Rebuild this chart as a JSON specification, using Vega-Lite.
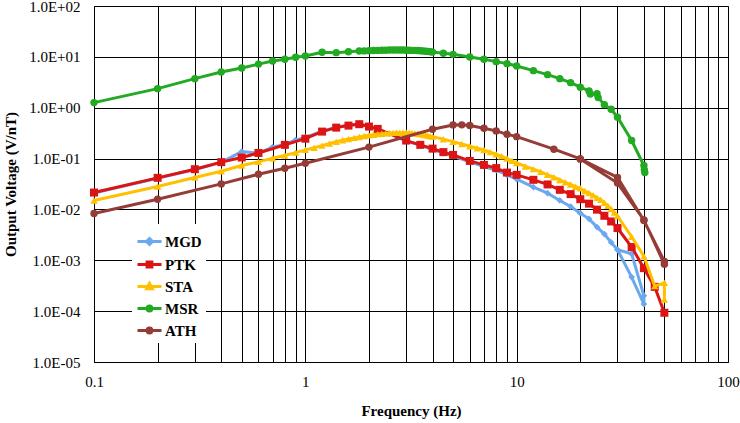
{
"$schema": "https://vega.github.io/schema/vega-lite/v6.json",
"width": 634, "height": 356,
"autosize": "none",
"padding": {"left": 94, "top": 6, "right": 12, "bottom": 61},
"background": "white",
"config": {"view": {"stroke": "#8c8c8c", "strokeWidth": 1}, "font": "Liberation Serif"},
"datasets": {
"d": [
{"s":"MGD","i":0,"f":0.1,"v":0.021},{"s":"MGD","i":1,"f":0.2,"v":0.041},{"s":"MGD","i":2,"f":0.3,"v":0.061},{"s":"MGD","i":3,"f":0.4,"v":0.084},{"s":"MGD","i":4,"f":0.5,"v":0.137},{"s":"MGD","i":5,"f":0.6,"v":0.128},{"s":"MGD","i":6,"f":0.7,"v":0.168},{"s":"MGD","i":7,"f":0.8,"v":0.19},{"s":"MGD","i":8,"f":0.9,"v":0.232},{"s":"MGD","i":9,"f":1.0,"v":0.26},{"s":"MGD","i":10,"f":1.2,"v":0.345},{"s":"MGD","i":11,"f":1.4,"v":0.415},{"s":"MGD","i":12,"f":1.6,"v":0.46},{"s":"MGD","i":13,"f":1.8,"v":0.485},{"s":"MGD","i":14,"f":2.0,"v":0.43},{"s":"MGD","i":15,"f":2.2,"v":0.385},{"s":"MGD","i":16,"f":2.5,"v":0.31},{"s":"MGD","i":17,"f":3.0,"v":0.222},{"s":"MGD","i":18,"f":3.5,"v":0.182},{"s":"MGD","i":19,"f":4.0,"v":0.152},{"s":"MGD","i":20,"f":4.5,"v":0.128},{"s":"MGD","i":21,"f":5,"v":0.112},{"s":"MGD","i":22,"f":6,"v":0.086},{"s":"MGD","i":23,"f":7,"v":0.07},{"s":"MGD","i":24,"f":8,"v":0.059},{"s":"MGD","i":25,"f":9,"v":0.048},{"s":"MGD","i":26,"f":10,"v":0.0394},{"s":"MGD","i":27,"f":12,"v":0.0274},{"s":"MGD","i":28,"f":14,"v":0.0209},{"s":"MGD","i":29,"f":16,"v":0.015},{"s":"MGD","i":30,"f":18,"v":0.0114},{"s":"MGD","i":31,"f":20,"v":0.00845},{"s":"MGD","i":32,"f":22,"v":0.00653},{"s":"MGD","i":33,"f":24,"v":0.00449},{"s":"MGD","i":34,"f":26,"v":0.00327},{"s":"MGD","i":35,"f":28,"v":0.00224},{"s":"MGD","i":36,"f":30,"v":0.00161},{"s":"MGD","i":37,"f":35,"v":0.00134},{"s":"MGD","i":38,"f":40,"v":0.000201},{"s":"MGD","i":39,"f":40,"v":0.000138},{"s":"MGD","i":40,"f":35,"v":0.000468},{"s":"MGD","i":41,"f":30,"v":0.00161},
{"s":"PTK","i":0,"f":0.1,"v":0.0215},{"s":"PTK","i":1,"f":0.2,"v":0.0418},{"s":"PTK","i":2,"f":0.3,"v":0.0618},{"s":"PTK","i":3,"f":0.4,"v":0.085},{"s":"PTK","i":4,"f":0.5,"v":0.105},{"s":"PTK","i":5,"f":0.6,"v":0.129},{"s":"PTK","i":6,"f":0.8,"v":0.186},{"s":"PTK","i":7,"f":1.0,"v":0.246},{"s":"PTK","i":8,"f":1.2,"v":0.339},{"s":"PTK","i":9,"f":1.4,"v":0.406},{"s":"PTK","i":10,"f":1.6,"v":0.445},{"s":"PTK","i":11,"f":1.8,"v":0.474},{"s":"PTK","i":12,"f":2.0,"v":0.426},{"s":"PTK","i":13,"f":2.2,"v":0.383},{"s":"PTK","i":14,"f":3.0,"v":0.226},{"s":"PTK","i":15,"f":3.5,"v":0.186},{"s":"PTK","i":16,"f":4.0,"v":0.157},{"s":"PTK","i":17,"f":4.5,"v":0.134},{"s":"PTK","i":18,"f":5,"v":0.118},{"s":"PTK","i":19,"f":6,"v":0.09},{"s":"PTK","i":20,"f":7,"v":0.075},{"s":"PTK","i":21,"f":8,"v":0.065},{"s":"PTK","i":22,"f":9,"v":0.053},{"s":"PTK","i":23,"f":10,"v":0.0479},{"s":"PTK","i":24,"f":12,"v":0.0382},{"s":"PTK","i":25,"f":14,"v":0.031},{"s":"PTK","i":26,"f":16,"v":0.0243},{"s":"PTK","i":27,"f":18,"v":0.02},{"s":"PTK","i":28,"f":20,"v":0.0159},{"s":"PTK","i":29,"f":22,"v":0.013},{"s":"PTK","i":30,"f":24,"v":0.0099},{"s":"PTK","i":31,"f":26,"v":0.0075},{"s":"PTK","i":32,"f":28,"v":0.0058},{"s":"PTK","i":33,"f":30,"v":0.0043},{"s":"PTK","i":34,"f":35,"v":0.00182},{"s":"PTK","i":35,"f":40,"v":0.0007},{"s":"PTK","i":36,"f":45,"v":0.0003},{"s":"PTK","i":37,"f":50,"v":0.000093},
{"s":"STA","i":0,"f":0.1,"v":0.015},{"s":"STA","i":1,"f":0.2,"v":0.0282},{"s":"STA","i":2,"f":0.3,"v":0.0424},{"s":"STA","i":3,"f":0.4,"v":0.0565},{"s":"STA","i":4,"f":0.5,"v":0.073},{"s":"STA","i":5,"f":0.6,"v":0.086},{"s":"STA","i":6,"f":0.7,"v":0.1016},{"s":"STA","i":7,"f":0.8,"v":0.115},{"s":"STA","i":8,"f":0.9,"v":0.131},{"s":"STA","i":9,"f":1.0,"v":0.148},{"s":"STA","i":10,"f":1.1,"v":0.163},{"s":"STA","i":11,"f":1.2,"v":0.18},{"s":"STA","i":12,"f":1.3,"v":0.198},{"s":"STA","i":13,"f":1.4,"v":0.214},{"s":"STA","i":14,"f":1.5,"v":0.229},{"s":"STA","i":15,"f":1.6,"v":0.243},{"s":"STA","i":16,"f":1.7,"v":0.255},{"s":"STA","i":17,"f":1.8,"v":0.266},{"s":"STA","i":18,"f":1.9,"v":0.277},{"s":"STA","i":19,"f":2.0,"v":0.287},{"s":"STA","i":20,"f":2.1,"v":0.295},{"s":"STA","i":21,"f":2.2,"v":0.302},{"s":"STA","i":22,"f":2.3,"v":0.308},{"s":"STA","i":23,"f":2.4,"v":0.313},{"s":"STA","i":24,"f":2.5,"v":0.317},{"s":"STA","i":25,"f":2.6,"v":0.32},{"s":"STA","i":26,"f":2.7,"v":0.322},{"s":"STA","i":27,"f":2.8,"v":0.323},{"s":"STA","i":28,"f":2.9,"v":0.323},{"s":"STA","i":29,"f":3.0,"v":0.322},{"s":"STA","i":30,"f":3.1,"v":0.32},{"s":"STA","i":31,"f":3.2,"v":0.317},{"s":"STA","i":32,"f":3.3,"v":0.313},{"s":"STA","i":33,"f":3.4,"v":0.308},{"s":"STA","i":34,"f":3.5,"v":0.303},{"s":"STA","i":35,"f":3.6,"v":0.297},{"s":"STA","i":36,"f":3.7,"v":0.29},{"s":"STA","i":37,"f":3.8,"v":0.283},{"s":"STA","i":38,"f":3.9,"v":0.276},{"s":"STA","i":39,"f":4.0,"v":0.27},{"s":"STA","i":40,"f":4.5,"v":0.24},{"s":"STA","i":41,"f":5.0,"v":0.215},{"s":"STA","i":42,"f":5.5,"v":0.193},{"s":"STA","i":43,"f":6.0,"v":0.175},{"s":"STA","i":44,"f":6.5,"v":0.16},{"s":"STA","i":45,"f":7.0,"v":0.147},{"s":"STA","i":46,"f":7.5,"v":0.134},{"s":"STA","i":47,"f":8.0,"v":0.122},{"s":"STA","i":48,"f":8.5,"v":0.111},{"s":"STA","i":49,"f":9.0,"v":0.1},{"s":"STA","i":50,"f":9.5,"v":0.09},{"s":"STA","i":51,"f":10,"v":0.082},{"s":"STA","i":52,"f":11,"v":0.07},{"s":"STA","i":53,"f":12,"v":0.062},{"s":"STA","i":54,"f":13,"v":0.055},{"s":"STA","i":55,"f":14,"v":0.048},{"s":"STA","i":56,"f":15,"v":0.043},{"s":"STA","i":57,"f":16,"v":0.038},{"s":"STA","i":58,"f":17,"v":0.034},{"s":"STA","i":59,"f":18,"v":0.031},{"s":"STA","i":60,"f":19,"v":0.028},{"s":"STA","i":61,"f":20,"v":0.026},{"s":"STA","i":62,"f":21,"v":0.023},{"s":"STA","i":63,"f":22,"v":0.021},{"s":"STA","i":64,"f":23,"v":0.019},{"s":"STA","i":65,"f":24,"v":0.017},{"s":"STA","i":66,"f":25,"v":0.0155},{"s":"STA","i":67,"f":26,"v":0.0135},{"s":"STA","i":68,"f":27,"v":0.0118},{"s":"STA","i":69,"f":28,"v":0.0102},{"s":"STA","i":70,"f":29,"v":0.0087},{"s":"STA","i":71,"f":30,"v":0.0074},{"s":"STA","i":72,"f":35,"v":0.0029},{"s":"STA","i":73,"f":40,"v":0.0012},{"s":"STA","i":74,"f":45,"v":0.00031},{"s":"STA","i":75,"f":50,"v":0.00036},{"s":"STA","i":76,"f":50,"v":0.00017},
{"s":"MSR","i":0,"f":0.1,"v":1.26},{"s":"MSR","i":1,"f":0.2,"v":2.37},{"s":"MSR","i":2,"f":0.3,"v":3.73},{"s":"MSR","i":3,"f":0.4,"v":5.05},{"s":"MSR","i":4,"f":0.5,"v":6.05},{"s":"MSR","i":5,"f":0.6,"v":7.2},{"s":"MSR","i":6,"f":0.7,"v":8.3},{"s":"MSR","i":7,"f":0.8,"v":8.96},{"s":"MSR","i":8,"f":0.9,"v":9.8},{"s":"MSR","i":9,"f":1.0,"v":10.4},{"s":"MSR","i":10,"f":1.2,"v":12.3},{"s":"MSR","i":11,"f":1.4,"v":12.1},{"s":"MSR","i":12,"f":1.6,"v":12.6},{"s":"MSR","i":13,"f":1.8,"v":13.0},{"s":"MSR","i":14,"f":1.9,"v":13.1},{"s":"MSR","i":15,"f":2.0,"v":13.2},{"s":"MSR","i":16,"f":2.1,"v":13.3},{"s":"MSR","i":17,"f":2.2,"v":13.4},{"s":"MSR","i":18,"f":2.3,"v":13.5},{"s":"MSR","i":19,"f":2.4,"v":13.5},{"s":"MSR","i":20,"f":2.5,"v":13.6},{"s":"MSR","i":21,"f":2.6,"v":13.6},{"s":"MSR","i":22,"f":2.7,"v":13.6},{"s":"MSR","i":23,"f":2.8,"v":13.6},{"s":"MSR","i":24,"f":2.9,"v":13.6},{"s":"MSR","i":25,"f":3.0,"v":13.5},{"s":"MSR","i":26,"f":3.1,"v":13.5},{"s":"MSR","i":27,"f":3.2,"v":13.4},{"s":"MSR","i":28,"f":3.3,"v":13.4},{"s":"MSR","i":29,"f":3.4,"v":13.3},{"s":"MSR","i":30,"f":3.5,"v":13.2},{"s":"MSR","i":31,"f":3.6,"v":13.1},{"s":"MSR","i":32,"f":3.7,"v":12.9},{"s":"MSR","i":33,"f":3.8,"v":12.8},{"s":"MSR","i":34,"f":3.9,"v":12.6},{"s":"MSR","i":35,"f":4.0,"v":12.4},{"s":"MSR","i":36,"f":4.5,"v":11.8},{"s":"MSR","i":37,"f":5,"v":11.2},{"s":"MSR","i":38,"f":6,"v":9.96},{"s":"MSR","i":39,"f":7,"v":8.97},{"s":"MSR","i":40,"f":8,"v":8.05},{"s":"MSR","i":41,"f":9,"v":7.36},{"s":"MSR","i":42,"f":10,"v":6.63},{"s":"MSR","i":43,"f":12,"v":5.36},{"s":"MSR","i":44,"f":14,"v":4.47},{"s":"MSR","i":45,"f":16,"v":3.73},{"s":"MSR","i":46,"f":18,"v":3.11},{"s":"MSR","i":47,"f":20,"v":2.53},{"s":"MSR","i":48,"f":22,"v":2.14},{"s":"MSR","i":49,"f":22.3,"v":1.86},{"s":"MSR","i":50,"f":24,"v":1.89},{"s":"MSR","i":51,"f":24.3,"v":1.58},{"s":"MSR","i":52,"f":26,"v":1.15},{"s":"MSR","i":53,"f":28,"v":0.93},{"s":"MSR","i":54,"f":30,"v":0.65},{"s":"MSR","i":55,"f":35,"v":0.226},{"s":"MSR","i":56,"f":40,"v":0.073},{"s":"MSR","i":57,"f":40.2,"v":0.06},{"s":"MSR","i":58,"f":40.4,"v":0.053},
{"s":"ATH","i":0,"f":0.1,"v":0.0083},{"s":"ATH","i":1,"f":0.2,"v":0.0159},{"s":"ATH","i":2,"f":0.4,"v":0.0318},{"s":"ATH","i":3,"f":0.6,"v":0.0493},{"s":"ATH","i":4,"f":0.8,"v":0.0647},{"s":"ATH","i":5,"f":1.0,"v":0.081},{"s":"ATH","i":6,"f":2,"v":0.168},{"s":"ATH","i":7,"f":4,"v":0.378},{"s":"ATH","i":8,"f":5,"v":0.459},{"s":"ATH","i":9,"f":5.5,"v":0.46},{"s":"ATH","i":10,"f":6,"v":0.447},{"s":"ATH","i":11,"f":7,"v":0.395},{"s":"ATH","i":12,"f":8,"v":0.35},{"s":"ATH","i":13,"f":9,"v":0.30},{"s":"ATH","i":14,"f":10,"v":0.27},{"s":"ATH","i":15,"f":15,"v":0.153},{"s":"ATH","i":16,"f":20,"v":0.0986},{"s":"ATH","i":17,"f":30,"v":0.0424},{"s":"ATH","i":18,"f":40,"v":0.00605},{"s":"ATH","i":19,"f":50,"v":0.00095},{"s":"ATH","i":20,"f":50,"v":0.00084},{"s":"ATH","i":21,"f":40,"v":0.0062},{"s":"ATH","i":22,"f":30,"v":0.033},{"s":"ATH","i":23,"f":20,"v":0.0986}
]
},
"data": {"name": "d"},
"encoding": {
"x": {"field": "f", "type": "quantitative",
 "scale": {"type": "log", "domain": [0.1, 100], "nice": false},
 "axis": {"title": "Frequency (Hz)", "values": [0.1,0.2,0.3,0.4,0.5,0.6,0.7,0.8,0.9,1,2,3,4,5,6,7,8,9,10,20,30,40,50,60,70,80,90,100],
  "labelExpr": "datum.value===0.1?'0.1':datum.value===1?'1':datum.value===10?'10':datum.value===100?'100':''",
  "grid": true, "gridColor": "#000", "gridOpacity": 1, "gridWidth": 1, "ticks": false,
  "domainColor": "#000", "domainWidth": 1, "labelFont": "Liberation Serif", "labelFontSize": 15, "labelColor": "#000",
  "labelPadding": 12, "labelFlush": false, "labelOverlap": false,
  "titleFont": "Liberation Serif", "titleFontSize": 15, "titleFontWeight": "bold", "titleColor": "#000", "titlePadding": 14}},
"y": {"field": "v", "type": "quantitative",
 "scale": {"type": "log", "domain": [0.00001, 100], "nice": false},
 "axis": {"title": "Output Voltage (V/nT)", "values": [0.00001,0.0001,0.001,0.01,0.1,1,10,100],
  "labelExpr": "'1.0E' + (round(log(datum.value)/LN10) < 0 ? '-' : '+') + '0' + abs(round(log(datum.value)/LN10))",
  "grid": true, "gridColor": "#000", "gridOpacity": 1, "gridWidth": 1, "ticks": false,
  "domainColor": "#000", "domainWidth": 1, "labelFont": "Liberation Serif", "labelFontSize": 15, "labelColor": "#000",
  "labelPadding": 14, "labelFlush": false, "labelOverlap": false,
  "titleFont": "Liberation Serif", "titleFontSize": 15, "titleFontWeight": "bold", "titleColor": "#000", "titlePadding": 10}},
"color": {"field": "s", "type": "nominal",
 "scale": {"domain": ["MGD","PTK","STA","MSR","ATH"], "range": ["#6CA8EE","#DD1414","#FFC000","#22AA22","#963C37"]},
 "legend": {"title": null, "orient": "none", "legendX": 38, "legendY": 218, "fillColor": "white", "padding": 4, "rowPadding": 0,
  "symbolSize": 576, "symbolStrokeWidth": 3, "symbolType": "M-1,0H1",
  "labelFont": "Liberation Serif", "labelFontSize": 15, "labelFontWeight": "bold", "labelColor": "#000", "labelOffset": 2,
  "encode": {"symbols": {"update": {
   "shape": {"signal": "datum.value==='MGD' ? 'M-1,0H1M0,-0.25L0.25,0L0,0.25L-0.25,0Z' : datum.value==='PTK' ? 'M-1,0H1M-0.2,-0.2H0.2V0.2H-0.2Z' : datum.value==='STA' ? 'M-1,0H1M0,-0.26L0.24,0.18H-0.24Z' : 'M-1,0H1M-0.2,0A0.2,0.2 0 1,0 0.2,0A0.2,0.2 0 1,0 -0.2,0Z'"},
   "fill": {"scale": "color", "field": "value"},
   "stroke": {"scale": "color", "field": "value"},
   "fillOpacity": {"value": 1},
   "strokeWidth": {"value": 3}}}}}},
"order": {"field": "i", "type": "quantitative"}
},
"layer": [
{"transform": [{"filter": "datum.s==='MGD'"}], "mark": {"type": "line", "strokeWidth": 3, "point": {"shape": "diamond", "size": 45, "filled": true, "opacity": 1}}},
{"transform": [{"filter": "datum.s==='PTK'"}], "mark": {"type": "line", "strokeWidth": 3, "point": {"shape": "square", "size": 64, "filled": true, "opacity": 1}}},
{"transform": [{"filter": "datum.s==='STA'"}], "mark": {"type": "line", "strokeWidth": 3, "point": {"shape": "triangle-up", "size": 55, "filled": true, "opacity": 1}}},
{"transform": [{"filter": "datum.s==='MSR'"}], "mark": {"type": "line", "strokeWidth": 3, "point": {"shape": "circle", "size": 55, "filled": true, "opacity": 1}}},
{"transform": [{"filter": "datum.s==='ATH'"}], "mark": {"type": "line", "strokeWidth": 3, "point": {"shape": "circle", "size": 55, "filled": true, "opacity": 1}}}
]
}
